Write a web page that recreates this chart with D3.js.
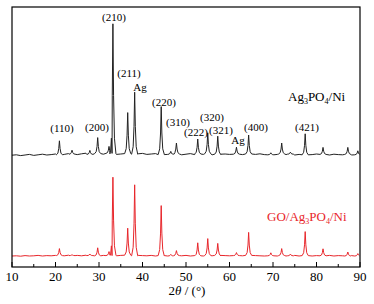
<!DOCTYPE html>
<html>
<head>
  <meta charset="utf-8">
  <title>XRD patterns</title>
  <style>
    body { margin: 0; background: #fff; }
    text { font-family: "Times New Roman", "Liberation Serif", serif; }
  </style>
</head>
<body>
  <svg width="374" height="304"></svg>
  <script src="https://d3js.org/d3.v7.min.js"></script>
  <script>
    // peak positions (2θ, °) and heights above baseline (a.u.)
    var peakPos    = [20.9, 23.8, 27.9, 29.7, 32.3, 33.2, 36.6, 38.2, 44.3, 46.5, 47.8, 52.7, 55.0, 57.3, 61.6, 64.4, 69.5, 72.0, 74.0, 77.4, 81.5, 87.2, 89.5];
    var blackPeaks = [70,   20,   20,   80,   35,   650,  205,  310,  240,  15,   55,   75,   105,  90,   35,   95,   10,   55,   10,   105,  35,   35,   20];
    var redPeaks   = [35,   5,    8,    40,   20,   390,  135,  355,  250,  8,    25,   65,   85,   60,   15,   115,  15,   35,   8,    120,  35,   20,   12];

    // baseline wobble every 1° from 10° to 90°
    var baseX = d3.range(10, 91);
    var blackBase = [4,6,2,5,8,3,6,9,5,7,10,6,8,12,9,7,11,14,8,10,12,9,13,11,8,10,14,12,9,11,
                     13,8,10,12,7,9,11,8,10,6,9,12,7,10,8,11,6,9,7,10,8,5,9,7,10,6,8,11,7,9,
                     6,8,10,7,9,5,8,6,9,7,10,6,8,5,9,7,6,8,5,7,6];
    var redBase   = [3,4,2,5,3,4,6,3,5,4,6,5,4,7,5,6,4,7,5,6,4,6,5,7,4,6,5,7,4,6,
                     5,4,6,3,5,4,6,3,5,4,6,3,5,4,3,5,4,6,3,5,4,3,5,4,6,3,5,4,3,5,
                     4,3,5,3,4,6,3,5,4,3,5,3,4,6,3,5,4,3,5,4,3];
    var blackOffset = 555;
    var redOffset = 52;

    var blackLabels = [
      { t: "(110)", x: 62,  y: 128 }, { t: "(200)", x: 97,  y: 127 },
      { t: "(210)", x: 114, y: 17  }, { t: "(211)", x: 129, y: 73  },
      { t: "Ag",    x: 140, y: 87  }, { t: "(220)", x: 164, y: 102 },
      { t: "(310)", x: 178, y: 122 }, { t: "(222)", x: 196, y: 132 },
      { t: "(320)", x: 212, y: 117 }, { t: "(321)", x: 221, y: 130 },
      { t: "Ag",    x: 238, y: 140 }, { t: "(400)", x: 256, y: 127 },
      { t: "(421)", x: 307, y: 127 }
    ];

    var svg = d3.select("svg");
    var m = { left: 12, right: 360, top: 7, bottom: 267 };

    var x = d3.scaleLinear().domain([10, 90]).range([m.left, m.right]);
    var y = d3.scaleLinear().domain([0, 1300]).range([m.bottom, m.top]);

    function buildSeries(peaks, base, offset) {
      var w = 0.7;
      var pts = [];
      baseX.forEach(function (bx, i) {
        var near = peakPos.some(function (p) { return Math.abs(bx - p) < w; });
        if (!near) pts.push([bx, offset + base[i]]);
      });
      peakPos.forEach(function (p, i) {
        var b = offset + base[Math.round(p) - 10];
        var h = peaks[i];
        pts.push([p - w, b], [p - 0.35, b + h * 0.12], [p - 0.15, b + h * 0.45], [p, b + h],
                 [p + 0.15, b + h * 0.45], [p + 0.35, b + h * 0.12], [p + w, b]);
      });
      pts.sort(function (a, b) { return a[0] - b[0]; });
      return pts.filter(function (d) { return d[0] >= 10 && d[0] <= 90; });
    }

    var line = d3.line()
      .x(function (d) { return x(d[0]); })
      .y(function (d) { return y(d[1]); });

    svg.append("path")
      .datum(buildSeries(blackPeaks, blackBase, blackOffset))
      .attr("d", line)
      .attr("fill", "none")
      .attr("stroke", "#222")
      .attr("stroke-width", 1);

    svg.append("path")
      .datum(buildSeries(redPeaks, redBase, redOffset))
      .attr("d", line)
      .attr("fill", "none")
      .attr("stroke", "#e8262b")
      .attr("stroke-width", 1);

    // frame
    svg.append("rect")
      .attr("x", m.left).attr("y", m.top)
      .attr("width", m.right - m.left).attr("height", m.bottom - m.top)
      .attr("fill", "none").attr("stroke", "#000").attr("stroke-width", 1.2);

    // bottom axis, ticks pointing inward
    var axis = svg.append("g").attr("transform", "translate(0," + m.bottom + ")");
    axis.selectAll("line.minor")
      .data(d3.range(15, 90, 10))
      .enter().append("line")
      .attr("x1", function (d) { return x(d); }).attr("x2", function (d) { return x(d); })
      .attr("y1", 0).attr("y2", -3).attr("stroke", "#000");
    axis.selectAll("line.major")
      .data(x.ticks(8))
      .enter().append("line")
      .attr("x1", function (d) { return x(d); }).attr("x2", function (d) { return x(d); })
      .attr("y1", 0).attr("y2", -5).attr("stroke", "#000");
    axis.selectAll("text")
      .data(x.ticks(8))
      .enter().append("text")
      .attr("x", function (d) { return x(d); })
      .attr("y", 14)
      .attr("text-anchor", "middle")
      .attr("font-size", 13)
      .text(function (d) { return d; });

    var title = svg.append("text")
      .attr("x", 187).attr("y", 295)
      .attr("text-anchor", "middle")
      .attr("font-size", 13);
    title.append("tspan").text("2");
    title.append("tspan").attr("font-style", "italic").text("θ");
    title.append("tspan").text(" / (°)");

    svg.selectAll("text.lab")
      .data(blackLabels)
      .enter().append("text")
      .attr("class", "lab")
      .attr("x", function (d) { return d.x; })
      .attr("y", function (d) { return d.y + 4; })
      .attr("text-anchor", "middle")
      .attr("font-size", 11)
      .text(function (d) { return d.t; });

    function compoundLabel(prefix, xPos, yPos, color) {
      var t = svg.append("text")
        .attr("x", xPos).attr("y", yPos)
        .attr("text-anchor", "start")
        .attr("font-size", 13)
        .attr("fill", color);
      t.append("tspan").text(prefix + "Ag");
      t.append("tspan").attr("font-size", 8).attr("dy", 3).text("3");
      t.append("tspan").attr("dy", -3).text("PO");
      t.append("tspan").attr("font-size", 8).attr("dy", 3).text("4");
      t.append("tspan").attr("dy", -3).text("/Ni");
    }
    compoundLabel("", 288, 101, "#000");
    compoundLabel("GO/", 267, 221, "#e8262b");
  </script>
</body>
</html>
